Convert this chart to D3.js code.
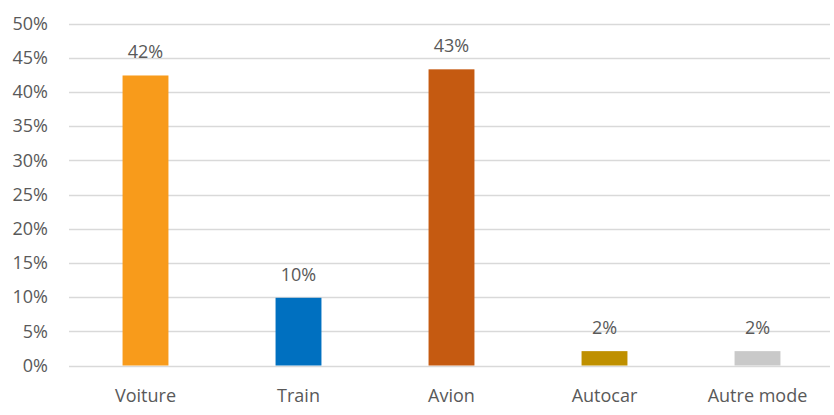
<!DOCTYPE html>
<html>
<head>
<meta charset="utf-8">
<script src="https://cdn.jsdelivr.net/npm/d3@7"></script>
<style>
  html, body { margin: 0; padding: 0; background: #fff; }
  svg { display: block; }
  text { font-family: "Open Sans", "Liberation Sans", Arial, sans-serif; fill: #595959; }
</style>
</head>
<body>
<svg id="chart" width="834" height="415"></svg>
<script>
// Share of trips by transport mode (%)
const categories = ["Voiture", "Train", "Avion", "Autocar", "Autre mode"];
const values = [42.4, 9.9, 43.3, 2.1, 2.1];
const colors = ["#F89B1B", "#0070C0", "#C55A11", "#BF9000", "#C9C9C9"];
const yTicks = [0, 5, 10, 15, 20, 25, 30, 35, 40, 45, 50];

const svg = d3.select("#chart");
const margin = { left: 69, right: 0, top: 23.5, bottom: 49.5 };
const W = 834, H = 415;

const x = d3.scaleBand()
  .domain(categories)
  .range([margin.left, W - margin.right])
  .paddingInner(0.7)
  .paddingOuter(0.35);

const y = d3.scaleLinear()
  .domain([0, 50])
  .range([H - margin.bottom, margin.top]);

// Horizontal gridlines
svg.append("g")
  .selectAll("line")
  .data(yTicks)
  .join("line")
  .attr("x1", margin.left)
  .attr("x2", W - 4)
  .attr("y1", d => Math.round(y(d)) + 0.5)
  .attr("y2", d => Math.round(y(d)) + 0.5)
  .attr("stroke", "#D9D9D9")
  .attr("stroke-width", 1.5);

// Y axis labels
const yAxis = d3.axisLeft(y)
  .tickValues(yTicks)
  .tickFormat(d => d + "%")
  .tickSize(0)
  .tickPadding(0);
const gy = svg.append("g")
  .attr("transform", "translate(48,0)")
  .call(yAxis);
gy.select(".domain").remove();
gy.selectAll("text")
  .attr("font-size", 18)
  .attr("font-family", "\"Open Sans\", sans-serif")
  .attr("fill", "#595959");

// Bars
svg.append("g")
  .selectAll("rect")
  .data(values)
  .join("rect")
  .attr("x", (d, i) => x(categories[i]))
  .attr("width", x.bandwidth())
  .attr("y", d => y(d))
  .attr("height", d => y(0) - y(d))
  .attr("fill", (d, i) => colors[i]);

// Value labels above bars
const fmt = d => Math.round(d) + "%";
svg.append("g")
  .selectAll("text")
  .data(values)
  .join("text")
  .attr("x", (d, i) => x(categories[i]) + x.bandwidth() / 2)
  .attr("y", d => y(d) - 17)
  .attr("text-anchor", "middle")
  .attr("font-size", 18)
  .text(fmt);

// Category axis labels
const xAxis = d3.axisBottom(x).tickSize(0).tickPadding(0);
const gx = svg.append("g")
  .attr("transform", "translate(0,401.5)")
  .call(xAxis);
gx.select(".domain").remove();
gx.selectAll("text")
  .attr("dy", 0)
  .attr("font-size", 18)
  .attr("font-family", "\"Open Sans\", sans-serif")
  .attr("fill", "#595959");
</script>
</body>
</html>
